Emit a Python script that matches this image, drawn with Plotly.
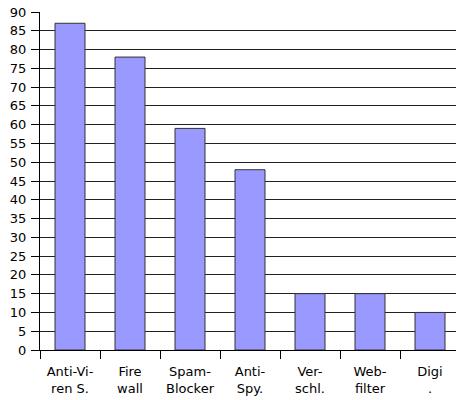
import plotly.graph_objects as go

categories = ["Anti-Vi-<br>ren S.", "Fire<br>wall", "Spam-<br>Blocker", "Anti-<br>Spy.",
              "Ver-<br>schl.", "Web-<br>filter", "Digi<br>."]
values = [87, 78, 59, 48, 15, 15, 10]
y_ticks = list(range(0, 91, 5))

fig = go.Figure(go.Bar(
    x=categories, y=values, width=0.5,
    marker=dict(color="#9999FF", line=dict(color="#333333", width=1)),
))

fig.update_layout(
    width=456, height=400,
    margin=dict(l=40, r=0, t=12, b=50, autoexpand=False),
    paper_bgcolor="white", plot_bgcolor="white",
    font=dict(family="DejaVu Sans", color="black"),
    showlegend=False,
    bargap=0.5,
)
fig.update_xaxes(
    type="category", range=[-0.5, 6.4333],
    showline=True, linecolor="black", linewidth=1,
    ticks="outside", tickson="boundaries", ticklen=8, tickcolor="black",
    showgrid=False, tickfont=dict(size=13), ticklabelstandoff=9,
    automargin=False,
)
fig.update_yaxes(
    range=[0, 90], tickvals=y_ticks,
    showline=True, linecolor="black", linewidth=1,
    ticks="outside", ticklen=8, tickcolor="black",
    showgrid=True, gridcolor="#222222", gridwidth=1,
    zeroline=False, tickfont=dict(size=13), ticklabelstandoff=2,
    ticklabeloverflow="allow", automargin=False,
)

fig.write_html(
    "out.html",
    config={"displayModeBar": False},
    post_script="document.body.style.margin='0';document.body.style.overflow='hidden';",
)
